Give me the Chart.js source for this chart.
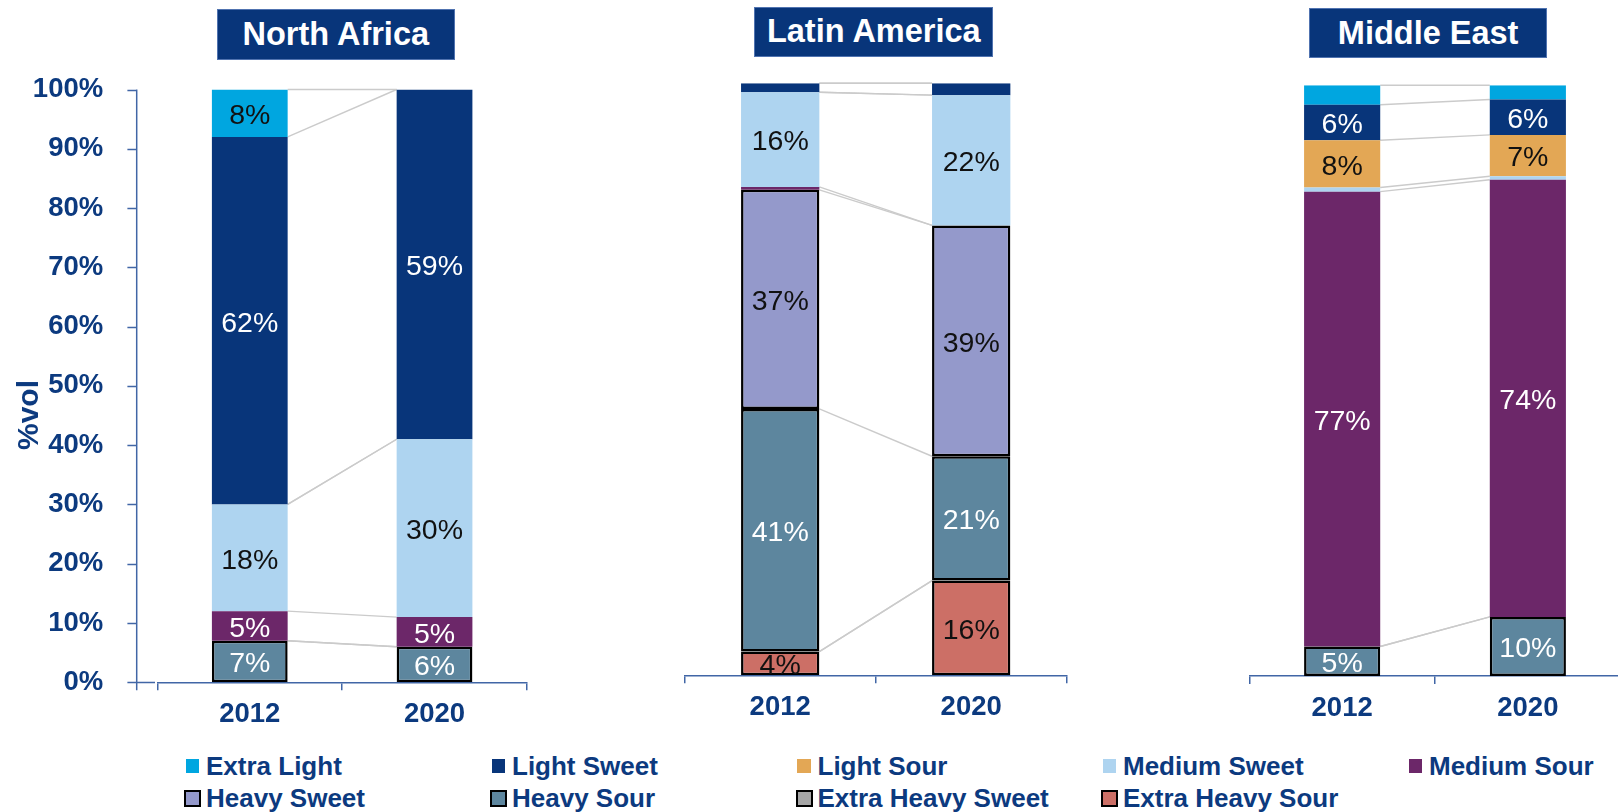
<!DOCTYPE html>
<html>
<head>
<meta charset="utf-8">
<title>Crude slate by region, 2012 vs 2020</title>
<script src="https://cdn.jsdelivr.net/npm/chart.js@4.4.1/dist/chart.umd.min.js"></script>
<style>
  html, body { margin: 0; padding: 0; background: #fff; width: 1618px; height: 812px; overflow: hidden;
    font-family: "Liberation Sans", Arial, sans-serif; }
  canvas.panel { position: absolute; top: 0; }
  .region-title { position: absolute; box-sizing: border-box; background: #08357a;
    border: 1px solid #5073b0; color: #fff; font-weight: bold; font-size: 32.5px;
    display: flex; align-items: center; justify-content: center; z-index: 2; }
  .axis-title { position: absolute; font-weight: bold; font-size: 30px; color: #0c3a7f; white-space: nowrap;
    transform: translate(-50%, -50%) rotate(-90deg); }
  .legend-item { position: absolute; height: 32px; display: flex; align-items: center; white-space: nowrap; }
  .legend-mark { width: 17px; height: 17px; display: flex; align-items: center; justify-content: center; }
  .legend-mark span { display: block; box-sizing: border-box; }
  .legend-text { margin-left: 5px; font-weight: bold; font-size: 26px; color: #0c3a7f; }
</style>
</head>
<body>
<script>
// ---- data -----------------------------------------------------------------
const years = ['2012', '2020'];
const regions = ['North Africa', 'Latin America', 'Middle East'];
const grades = ['Extra Light', 'Light Sweet', 'Light Sour', 'Medium Sweet', 'Medium Sour',
                'Heavy Sweet', 'Heavy Sour', 'Extra Heavy Sweet', 'Extra Heavy Sour'];

// share of crude volume (%), ordered:
// [N. Africa 2012, N. Africa 2020, Lat. Am. 2012, Lat. Am. 2020, M. East 2012, M. East 2020]
const extraLight      = [8,  0,  0,   0,  3.3, 2.4];
const lightSweet      = [62, 59, 1.5, 2,  6,   6];
const lightSour       = [0,  0,  0,   0,  8,   7];
const mediumSweet     = [18, 30, 16,  22, 0.7, 0.6];
const mediumSour      = [5,  5,  0.5, 0,  77,  74];
const heavySweet      = [0,  0,  37,  39, 0,   0];
const heavySour       = [7,  6,  41,  21, 5,   10];
const extraHeavySweet = [0,  0,  0,   0,  0,   0];
const extraHeavySour  = [0,  0,  4,   16, 0,   0];

const yTicks = [0, 10, 20, 30, 40, 50, 60, 70, 80, 90, 100];

// ---- styling --------------------------------------------------------------
const seriesValues = [extraLight, lightSweet, lightSour, mediumSweet, mediumSour,
                      heavySweet, heavySour, extraHeavySweet, extraHeavySour];
const fills   = ['#00a6e0', '#08357a', '#e3a755', '#aed4f0', '#6c2769', '#9499cb', '#5d869e', '#a6a6a6', '#cc6f66'];
const outlined = [false, false, false, false, false, true, true, true, true];
const labelInk = ['#111', '#fff', '#111', '#111', '#fff', '#111', '#fff', '#111', '#111'];

const BLUE_TEXT = '#0c3a7f';
const AXIS = '#4166a6';
const FONT = '"Liberation Sans", Arial, sans-serif';
const CANVAS_H = 745;

// panel geometry: canvas placement and the plot box inside it
const panels = [
  { left: 0,    width: 560, top: 89.5, padLeft: 0,    padRight: 33.1, bottom: 692.5, yAxis: true,
    title: { x: 217,    y: 8.6, w: 237.5, h: 51.5 } },
  { left: 640,  width: 460, top: 83.3, padLeft: 44.7, padRight: 33.3, bottom: 675.3, yAxis: false,
    title: { x: 754.3,  y: 6.7, w: 239,   h: 50.6 } },
  { left: 1200, width: 430, top: 85.3, padLeft: 49.3, padRight: 9.3,  bottom: 676,   yAxis: false,
    title: { x: 1309.3, y: 8.3, w: 237.7, h: 50 } },
];

// ---- plugins ----------------------------------------------------------------
// thin grey lines joining each series' upper edge from one bar to the next
const seriesLines = {
  id: 'seriesLines',
  beforeDatasetsDraw(chart) {
    const ctx = chart.ctx;
    const floor = chart.scales.y.getPixelForValue(0);
    ctx.save();
    ctx.strokeStyle = '#cbcbcb';
    ctx.lineWidth = 1.4;
    chart.data.datasets.forEach((ds, i) => {
      const m = chart.getDatasetMeta(i);
      const a = m.data[0].getProps(['x', 'y', 'width'], true);
      const b = m.data[1].getProps(['x', 'y', 'width'], true);
      // nothing to join while both stacks are still at the baseline
      if (Math.abs(a.y - floor) < 0.5 && Math.abs(b.y - floor) < 0.5) return;
      ctx.beginPath();
      ctx.moveTo(a.x + a.width / 2, a.y);
      ctx.lineTo(b.x - b.width / 2, b.y);
      ctx.stroke();
    });
    ctx.restore();
  }
};

// percentage written inside each sizeable segment
const segmentLabels = {
  id: 'segmentLabels',
  afterDatasetsDraw(chart) {
    const ctx = chart.ctx;
    ctx.save();
    ctx.font = '28.5px ' + FONT;
    ctx.textAlign = 'center';
    ctx.textBaseline = 'middle';
    chart.data.datasets.forEach((ds, i) => {
      const m = chart.getDatasetMeta(i);
      m.data.forEach((el, j) => {
        const v = ds.data[j];
        if (!(v >= 3.5)) return;
        const p = el.getProps(['x', 'y', 'base'], true);
        ctx.fillStyle = ds.labelInk;
        ctx.fillText(Math.round(v) + '%', p.x, (p.y + p.base) / 2 + 3);
      });
    });
    ctx.restore();
  }
};

// value axis line with outward ticks, set a little apart from the category axis
const valueAxisLine = {
  id: 'valueAxisLine',
  afterDraw(chart, args, opts) {
    if (!opts.show) return;
    const ctx = chart.ctx, ys = chart.scales.y, area = chart.chartArea;
    const x = area.left - 20.7;
    ctx.save();
    ctx.strokeStyle = AXIS;
    ctx.lineWidth = 1.5;
    ctx.beginPath();
    ctx.moveTo(x, ys.getPixelForValue(100));
    ctx.lineTo(x, area.bottom + 8);
    yTicks.forEach(t => {
      const py = Math.round(ys.getPixelForValue(t)) + 0.5;
      ctx.moveTo(x - 9.3, py);
      ctx.lineTo(t === 0 ? area.left - 2.4 : x, py);
    });
    ctx.stroke();
    ctx.restore();
  }
};

// ---- charts ----------------------------------------------------------------
panels.forEach((pn, r) => {
  const canvas = document.createElement('canvas');
  canvas.className = 'panel';
  canvas.width = pn.width;
  canvas.height = CANVAS_H;
  canvas.style.left = pn.left + 'px';
  canvas.style.width = pn.width + 'px';
  canvas.style.height = CANVAS_H + 'px';
  document.body.appendChild(canvas);

  // stack from the heaviest grade at the bottom up to the lightest on top
  const datasets = [];
  for (let g = grades.length - 1; g >= 0; g--) {
    datasets.push({
      label: grades[g],
      data: [seriesValues[g][r * 2], seriesValues[g][r * 2 + 1]],
      backgroundColor: fills[g],
      borderColor: outlined[g] ? '#000' : fills[g],
      borderWidth: outlined[g] ? 2.5 : 0,
      borderSkipped: false,
      barPercentage: 0.41,
      categoryPercentage: 1,
      labelInk: labelInk[g],
    });
  }

  const xHeight = CANVAS_H - pn.bottom;

  const yScale = {
    display: pn.yAxis,
    stacked: true,
    min: 0,
    max: 100,
    grid: { display: false },
    border: { display: false },
    ticks: {
      stepSize: 10,
      padding: 46.2,
      color: BLUE_TEXT,
      font: { family: FONT, size: 27.5, weight: 'bold' },
      callback: v => v + '%',
    },
  };
  if (pn.yAxis) yScale.afterFit = s => { s.width = 157.4; };

  new Chart(canvas, {
    type: 'bar',
    data: { labels: years, datasets },
    plugins: [seriesLines, segmentLabels, valueAxisLine],
    options: {
      responsive: false,
      animation: false,
      devicePixelRatio: 1,
      layout: { padding: { top: pn.top, left: pn.padLeft, right: pn.padRight, bottom: 0 } },
      plugins: {
        legend: { display: false },
        tooltip: { enabled: false },
        valueAxisLine: { show: pn.yAxis },
      },
      scales: {
        x: {
          stacked: true,
          grid: { display: true, drawOnChartArea: false, drawTicks: true, tickLength: 8,
                  color: AXIS, lineWidth: 1.5, offset: true },
          border: { display: true, color: AXIS, width: 1.5 },
          ticks: { color: BLUE_TEXT, font: { family: FONT, size: 27.5, weight: 'bold' }, padding: 8 },
          afterFit(s) { s.height = xHeight; },
        },
        y: yScale,
      },
    },
  });

  const t = document.createElement('div');
  t.className = 'region-title';
  t.style.left = pn.title.x + 'px';
  t.style.top = pn.title.y + 'px';
  t.style.width = pn.title.w + 'px';
  t.style.height = pn.title.h + 'px';
  t.textContent = regions[r];
  document.body.appendChild(t);
});

// value axis caption
const cap = document.createElement('div');
cap.className = 'axis-title';
cap.style.left = '28px';
cap.style.top = '415px';
cap.textContent = '%vol';
document.body.appendChild(cap);

// ---- legend ------------------------------------------------------------------
const legendCols = [186, 492, 797.5, 1103, 1409];
const legendRows = [766, 798];
grades.forEach((g, i) => {
  const row = i < 5 ? 0 : 1, col = i < 5 ? i : i - 5;
  const item = document.createElement('div');
  item.className = 'legend-item';
  item.style.left = (legendCols[col] - 2) + 'px';
  item.style.top = (legendRows[row] - 16) + 'px';
  const mark = document.createElement('div');
  mark.className = 'legend-mark';
  const sw = document.createElement('span');
  if (outlined[i]) {
    sw.style.width = '17px'; sw.style.height = '17px';
    sw.style.border = '2.5px solid #000';
  } else {
    sw.style.width = '13.5px'; sw.style.height = '13.5px';
  }
  sw.style.background = fills[i];
  mark.appendChild(sw);
  const txt = document.createElement('span');
  txt.className = 'legend-text';
  txt.textContent = g;
  item.appendChild(mark);
  item.appendChild(txt);
  document.body.appendChild(item);
});
</script>
</body>
</html>
